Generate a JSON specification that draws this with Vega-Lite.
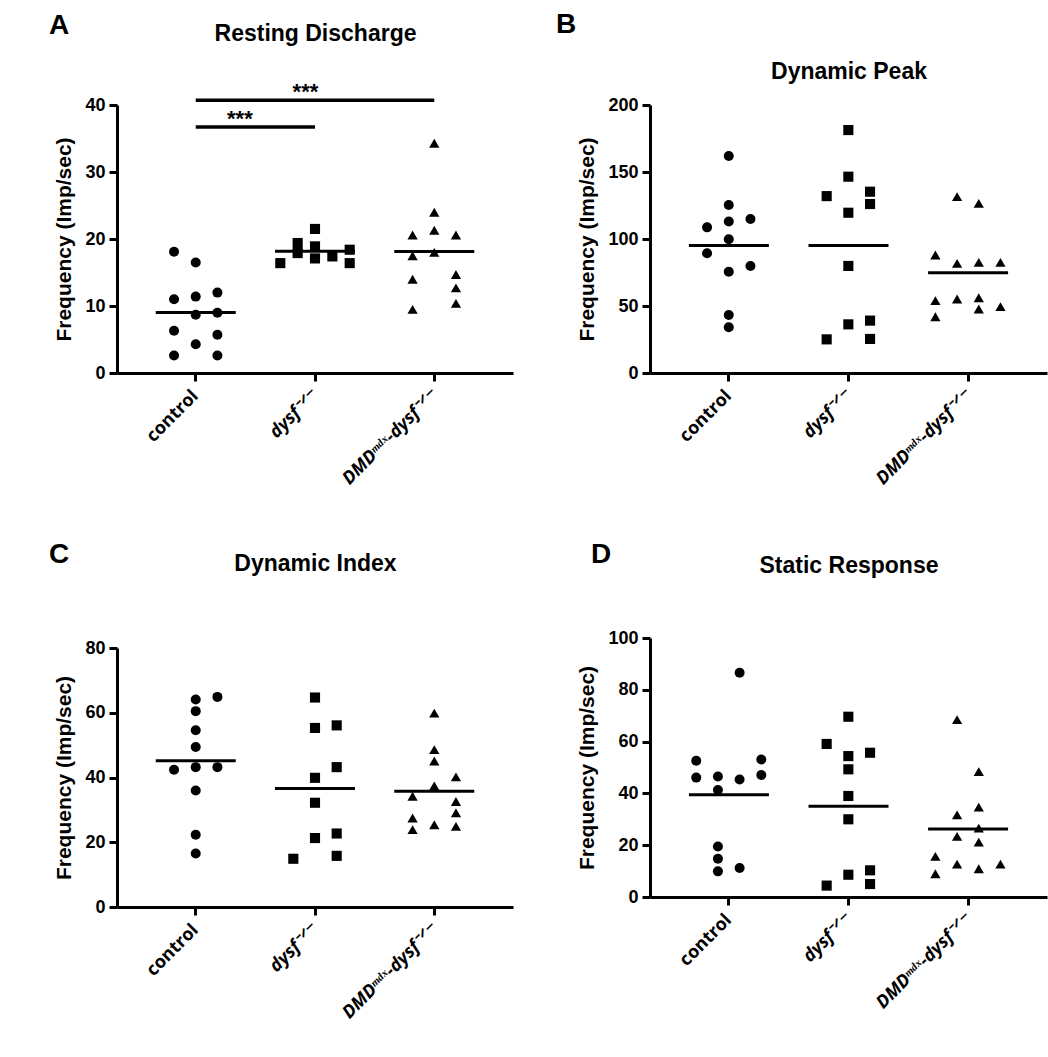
{
  "$schema": "https://vega.github.io/schema/vega-lite/v6.json",
  "background": "white",
  "padding": {"left": 48, "top": 11, "right": 5, "bottom": 5},
  "config": {
    "font": "Liberation Sans",
    "view": {"stroke": null},
    "axis": {"grid": false, "domainColor": "#000", "domainWidth": 3, "tickColor": "#000", "tickWidth": 3, "tickSize": 8, "labelColor": "#000", "labelFont": "Liberation Sans", "labelFontWeight": "bold", "labelFontSize": 18, "titleColor": "#000", "titleFont": "Liberation Sans", "titleFontWeight": "bold", "titleFontSize": 21},
    "title": {"font": "Liberation Sans", "fontWeight": "bold", "fontSize": 28, "color": "#000", "anchor": "start", "frame": "bounds"}
  },
  "datasets": {
    "resting": [
      {"group": "control", "value": 18.1, "slot": -1}, {"group": "control", "value": 11.0, "slot": -1}, {"group": "control", "value": 6.3, "slot": -1}, {"group": "control", "value": 2.6, "slot": -1},
      {"group": "control", "value": 16.5, "slot": 0}, {"group": "control", "value": 11.4, "slot": 0}, {"group": "control", "value": 8.7, "slot": 0}, {"group": "control", "value": 4.3, "slot": 0},
      {"group": "control", "value": 12.0, "slot": 1}, {"group": "control", "value": 9.0, "slot": 1}, {"group": "control", "value": 5.7, "slot": 1}, {"group": "control", "value": 2.6, "slot": 1},
      {"group": "dysf⁻ᐟ⁻", "value": 16.4, "slot": -1.6}, {"group": "dysf⁻ᐟ⁻", "value": 19.4, "slot": -0.8}, {"group": "dysf⁻ᐟ⁻", "value": 17.9, "slot": -0.8},
      {"group": "dysf⁻ᐟ⁻", "value": 21.5, "slot": 0}, {"group": "dysf⁻ᐟ⁻", "value": 18.9, "slot": 0}, {"group": "dysf⁻ᐟ⁻", "value": 17.1, "slot": 0},
      {"group": "dysf⁻ᐟ⁻", "value": 17.4, "slot": 0.8}, {"group": "dysf⁻ᐟ⁻", "value": 18.4, "slot": 1.6}, {"group": "dysf⁻ᐟ⁻", "value": 16.4, "slot": 1.6},
      {"group": "DMDᵐᵈˣ-dysf⁻ᐟ⁻", "value": 20.6, "slot": -1}, {"group": "DMDᵐᵈˣ-dysf⁻ᐟ⁻", "value": 17.5, "slot": -1}, {"group": "DMDᵐᵈˣ-dysf⁻ᐟ⁻", "value": 14.0, "slot": -1}, {"group": "DMDᵐᵈˣ-dysf⁻ᐟ⁻", "value": 9.5, "slot": -1},
      {"group": "DMDᵐᵈˣ-dysf⁻ᐟ⁻", "value": 34.3, "slot": 0}, {"group": "DMDᵐᵈˣ-dysf⁻ᐟ⁻", "value": 24.0, "slot": 0}, {"group": "DMDᵐᵈˣ-dysf⁻ᐟ⁻", "value": 21.3, "slot": 0}, {"group": "DMDᵐᵈˣ-dysf⁻ᐟ⁻", "value": 18.0, "slot": 0},
      {"group": "DMDᵐᵈˣ-dysf⁻ᐟ⁻", "value": 20.6, "slot": 1}, {"group": "DMDᵐᵈˣ-dysf⁻ᐟ⁻", "value": 14.7, "slot": 1}, {"group": "DMDᵐᵈˣ-dysf⁻ᐟ⁻", "value": 12.7, "slot": 1}, {"group": "DMDᵐᵈˣ-dysf⁻ᐟ⁻", "value": 10.4, "slot": 1}
    ],
    "peak": [
      {"group": "control", "value": 162, "slot": 0}, {"group": "control", "value": 125.4, "slot": 0}, {"group": "control", "value": 113, "slot": 0}, {"group": "control", "value": 99.8, "slot": 0}, {"group": "control", "value": 75.6, "slot": 0}, {"group": "control", "value": 43.3, "slot": 0}, {"group": "control", "value": 34.1, "slot": 0},
      {"group": "control", "value": 108.7, "slot": -1}, {"group": "control", "value": 89.3, "slot": -1},
      {"group": "control", "value": 114.9, "slot": 1}, {"group": "control", "value": 79.9, "slot": 1},
      {"group": "dysf⁻ᐟ⁻", "value": 181.3, "slot": 0}, {"group": "dysf⁻ᐟ⁻", "value": 146.5, "slot": 0}, {"group": "dysf⁻ᐟ⁻", "value": 119.6, "slot": 0}, {"group": "dysf⁻ᐟ⁻", "value": 79.9, "slot": 0}, {"group": "dysf⁻ᐟ⁻", "value": 36.3, "slot": 0},
      {"group": "dysf⁻ᐟ⁻", "value": 132, "slot": -1}, {"group": "dysf⁻ᐟ⁻", "value": 25.1, "slot": -1},
      {"group": "dysf⁻ᐟ⁻", "value": 135.3, "slot": 1}, {"group": "dysf⁻ᐟ⁻", "value": 126.1, "slot": 1}, {"group": "dysf⁻ᐟ⁻", "value": 39.1, "slot": 1}, {"group": "dysf⁻ᐟ⁻", "value": 25.4, "slot": 1},
      {"group": "DMDᵐᵈˣ-dysf⁻ᐟ⁻", "value": 88.1, "slot": -1.5}, {"group": "DMDᵐᵈˣ-dysf⁻ᐟ⁻", "value": 54, "slot": -1.5}, {"group": "DMDᵐᵈˣ-dysf⁻ᐟ⁻", "value": 42, "slot": -1.5},
      {"group": "DMDᵐᵈˣ-dysf⁻ᐟ⁻", "value": 131.6, "slot": -0.5}, {"group": "DMDᵐᵈˣ-dysf⁻ᐟ⁻", "value": 81.8, "slot": -0.5}, {"group": "DMDᵐᵈˣ-dysf⁻ᐟ⁻", "value": 55.2, "slot": -0.5},
      {"group": "DMDᵐᵈˣ-dysf⁻ᐟ⁻", "value": 126.6, "slot": 0.5}, {"group": "DMDᵐᵈˣ-dysf⁻ᐟ⁻", "value": 82.6, "slot": 0.5}, {"group": "DMDᵐᵈˣ-dysf⁻ᐟ⁻", "value": 56.2, "slot": 0.5}, {"group": "DMDᵐᵈˣ-dysf⁻ᐟ⁻", "value": 47.8, "slot": 0.5},
      {"group": "DMDᵐᵈˣ-dysf⁻ᐟ⁻", "value": 82.6, "slot": 1.5}, {"group": "DMDᵐᵈˣ-dysf⁻ᐟ⁻", "value": 49.5, "slot": 1.5}
    ],
    "index": [
      {"group": "control", "value": 64.1, "slot": 0}, {"group": "control", "value": 60.5, "slot": 0}, {"group": "control", "value": 54.6, "slot": 0}, {"group": "control", "value": 49.4, "slot": 0}, {"group": "control", "value": 43.2, "slot": 0}, {"group": "control", "value": 36.0, "slot": 0}, {"group": "control", "value": 22.3, "slot": 0}, {"group": "control", "value": 16.5, "slot": 0},
      {"group": "control", "value": 42.4, "slot": -1},
      {"group": "control", "value": 64.9, "slot": 1}, {"group": "control", "value": 43.2, "slot": 1},
      {"group": "dysf⁻ᐟ⁻", "value": 64.7, "slot": 0}, {"group": "dysf⁻ᐟ⁻", "value": 55.3, "slot": 0}, {"group": "dysf⁻ᐟ⁻", "value": 39.9, "slot": 0}, {"group": "dysf⁻ᐟ⁻", "value": 32.2, "slot": 0}, {"group": "dysf⁻ᐟ⁻", "value": 21.3, "slot": 0},
      {"group": "dysf⁻ᐟ⁻", "value": 56.1, "slot": 1}, {"group": "dysf⁻ᐟ⁻", "value": 43.2, "slot": 1}, {"group": "dysf⁻ᐟ⁻", "value": 22.7, "slot": 1}, {"group": "dysf⁻ᐟ⁻", "value": 15.8, "slot": 1},
      {"group": "dysf⁻ᐟ⁻", "value": 14.9, "slot": -1},
      {"group": "DMDᵐᵈˣ-dysf⁻ᐟ⁻", "value": 59.9, "slot": 0}, {"group": "DMDᵐᵈˣ-dysf⁻ᐟ⁻", "value": 48.6, "slot": 0}, {"group": "DMDᵐᵈˣ-dysf⁻ᐟ⁻", "value": 45.1, "slot": 0}, {"group": "DMDᵐᵈˣ-dysf⁻ᐟ⁻", "value": 37.4, "slot": 0}, {"group": "DMDᵐᵈˣ-dysf⁻ᐟ⁻", "value": 25.4, "slot": 0},
      {"group": "DMDᵐᵈˣ-dysf⁻ᐟ⁻", "value": 40.2, "slot": 1}, {"group": "DMDᵐᵈˣ-dysf⁻ᐟ⁻", "value": 32.6, "slot": 1}, {"group": "DMDᵐᵈˣ-dysf⁻ᐟ⁻", "value": 29.1, "slot": 1}, {"group": "DMDᵐᵈˣ-dysf⁻ᐟ⁻", "value": 24.9, "slot": 1},
      {"group": "DMDᵐᵈˣ-dysf⁻ᐟ⁻", "value": 34.2, "slot": -1}, {"group": "DMDᵐᵈˣ-dysf⁻ᐟ⁻", "value": 27.5, "slot": -1}, {"group": "DMDᵐᵈˣ-dysf⁻ᐟ⁻", "value": 23.9, "slot": -1}
    ],
    "static": [
      {"group": "control", "value": 52.6, "slot": -1.5}, {"group": "control", "value": 46.1, "slot": -1.5},
      {"group": "control", "value": 46.5, "slot": -0.5}, {"group": "control", "value": 41.3, "slot": -0.5}, {"group": "control", "value": 19.5, "slot": -0.5}, {"group": "control", "value": 14.8, "slot": -0.5}, {"group": "control", "value": 9.9, "slot": -0.5},
      {"group": "control", "value": 86.6, "slot": 0.5}, {"group": "control", "value": 45.4, "slot": 0.5}, {"group": "control", "value": 11.2, "slot": 0.5},
      {"group": "control", "value": 53.1, "slot": 1.5}, {"group": "control", "value": 47.1, "slot": 1.5},
      {"group": "dysf⁻ᐟ⁻", "value": 69.6, "slot": 0}, {"group": "dysf⁻ᐟ⁻", "value": 54.4, "slot": 0}, {"group": "dysf⁻ᐟ⁻", "value": 49.3, "slot": 0}, {"group": "dysf⁻ᐟ⁻", "value": 39.0, "slot": 0}, {"group": "dysf⁻ᐟ⁻", "value": 30.0, "slot": 0}, {"group": "dysf⁻ᐟ⁻", "value": 8.6, "slot": 0},
      {"group": "dysf⁻ᐟ⁻", "value": 59.1, "slot": -1}, {"group": "dysf⁻ᐟ⁻", "value": 4.4, "slot": -1},
      {"group": "dysf⁻ᐟ⁻", "value": 55.7, "slot": 1}, {"group": "dysf⁻ᐟ⁻", "value": 10.3, "slot": 1}, {"group": "dysf⁻ᐟ⁻", "value": 5.0, "slot": 1},
      {"group": "DMDᵐᵈˣ-dysf⁻ᐟ⁻", "value": 15.7, "slot": -1.5}, {"group": "DMDᵐᵈˣ-dysf⁻ᐟ⁻", "value": 9.0, "slot": -1.5},
      {"group": "DMDᵐᵈˣ-dysf⁻ᐟ⁻", "value": 68.5, "slot": -0.5}, {"group": "DMDᵐᵈˣ-dysf⁻ᐟ⁻", "value": 31.7, "slot": -0.5}, {"group": "DMDᵐᵈˣ-dysf⁻ᐟ⁻", "value": 23.4, "slot": -0.5}, {"group": "DMDᵐᵈˣ-dysf⁻ᐟ⁻", "value": 12.7, "slot": -0.5},
      {"group": "DMDᵐᵈˣ-dysf⁻ᐟ⁻", "value": 48.4, "slot": 0.5}, {"group": "DMDᵐᵈˣ-dysf⁻ᐟ⁻", "value": 34.7, "slot": 0.5}, {"group": "DMDᵐᵈˣ-dysf⁻ᐟ⁻", "value": 26.6, "slot": 0.5}, {"group": "DMDᵐᵈˣ-dysf⁻ᐟ⁻", "value": 21.2, "slot": 0.5}, {"group": "DMDᵐᵈˣ-dysf⁻ᐟ⁻", "value": 10.9, "slot": 0.5},
      {"group": "DMDᵐᵈˣ-dysf⁻ᐟ⁻", "value": 12.7, "slot": 1.5}
    ],
    "sig": [
      {"from": "control", "to": "dysf⁻ᐟ⁻", "y": 36.7, "label": "***"},
      {"from": "control", "to": "DMDᵐᵈˣ-dysf⁻ᐟ⁻", "y": 40.7, "label": "***"}
    ]
  },
  "hconcat": [
    {
      "bounds": "flush",
      "spacing": 275,
      "vconcat": [
        {
          "width": 396, "height": 268,
          "title": {"text": "A", "dx": -5, "dy": 22},
          "layer": [
            {
              "data": {"name": "resting"},
              "mark": {"type": "point", "filled": true, "opacity": 1, "color": "#000"},
              "encoding": {
                "x": {"field": "group", "type": "nominal", "scale": {"type": "band", "domain": ["control", "dysf⁻ᐟ⁻", "DMDᵐᵈˣ-dysf⁻ᐟ⁻"], "paddingInner": 0, "paddingOuter": 0.16},
                  "axis": {"title": null, "labelAngle": -45, "labelAlign": "right", "labelBaseline": "middle", "labelFont": "Open Sans", "labelFontSize": 18, "labelPadding": 12, "labelFontStyle": {"condition": {"test": "datum.value !== 'control'", "value": "italic"}, "value": "normal"}}},
                "xOffset": {"field": "slot", "type": "quantitative", "scale": {"domain": [-2.75, 2.75]}},
                "y": {"field": "value", "type": "quantitative", "title": "Frequency (Imp/sec)", "scale": {"domain": [0, 40], "nice": false}, "axis": {"values": [0, 10, 20, 30, 40], "labelPadding": 4, "titlePadding": 10}},
                "shape": {"field": "group", "type": "nominal", "scale": {"domain": ["control", "dysf⁻ᐟ⁻", "DMDᵐᵈˣ-dysf⁻ᐟ⁻"], "range": ["circle", "square", "triangle-up"]}, "legend": null},
                "size": {"field": "group", "type": "nominal", "scale": {"domain": ["control", "dysf⁻ᐟ⁻", "DMDᵐᵈˣ-dysf⁻ᐟ⁻"], "range": [100, 105, 140]}, "legend": null}
              }
            },
            {
              "data": {"name": "resting"},
              "mark": {"type": "tick", "color": "#000", "size": 80, "thickness": 3},
              "encoding": {
                "x": {"field": "group", "type": "nominal", "axis": {"orient": "top", "title": "Resting Discharge", "titleFontSize": 23, "titlePadding": 60, "labels": false, "ticks": false, "domain": false}},
                "y": {"aggregate": "mean", "field": "value", "type": "quantitative", "title": "Frequency (Imp/sec)"}
              }
            },
            {
              "data": {"name": "sig"},
              "mark": {"type": "rule", "color": "#000", "strokeWidth": 3.5},
              "encoding": {
                "x": {"field": "from", "type": "nominal", "bandPosition": 0.5, "axis": null},
                "x2": {"field": "to", "bandPosition": 0.5},
                "y": {"field": "y", "type": "quantitative", "title": "Frequency (Imp/sec)"}
              }
            },
            {
              "data": {"values": [{"at": "dysf⁻ᐟ⁻", "y": 40.7, "label": "***"}]},
              "mark": {"type": "text", "font": "Liberation Sans", "fontWeight": "bold", "fontSize": 22, "baseline": "alphabetic", "dy": -1},
              "encoding": {
                "x": {"field": "at", "type": "nominal", "bandPosition": 0.42, "axis": null},
                "y": {"field": "y", "type": "quantitative", "title": "Frequency (Imp/sec)"},
                "text": {"field": "label"}
              }
            },
            {
              "data": {"values": [{"at": "control", "y": 36.7, "label": "***"}]},
              "mark": {"type": "text", "font": "Liberation Sans", "fontWeight": "bold", "fontSize": 22, "baseline": "alphabetic", "dy": -1},
              "encoding": {
                "x": {"field": "at", "type": "nominal", "bandPosition": 0.87, "axis": null},
                "y": {"field": "y", "type": "quantitative", "title": "Frequency (Imp/sec)"},
                "text": {"field": "label"}
              }
            }
          ],
          "resolve": {"axis": {"x": "independent"}}
        },
        {
          "width": 396, "height": 259,
          "title": {"text": "C", "dx": -5, "dy": 21},
          "layer": [
            {
              "data": {"name": "index"},
              "mark": {"type": "point", "filled": true, "opacity": 1, "color": "#000"},
              "encoding": {
                "x": {"field": "group", "type": "nominal", "scale": {"type": "band", "domain": ["control", "dysf⁻ᐟ⁻", "DMDᵐᵈˣ-dysf⁻ᐟ⁻"], "paddingInner": 0, "paddingOuter": 0.16},
                  "axis": {"title": null, "labelAngle": -45, "labelAlign": "right", "labelBaseline": "middle", "labelFont": "Open Sans", "labelFontSize": 18, "labelPadding": 12, "labelFontStyle": {"condition": {"test": "datum.value !== 'control'", "value": "italic"}, "value": "normal"}}},
                "xOffset": {"field": "slot", "type": "quantitative", "scale": {"domain": [-2.75, 2.75]}},
                "y": {"field": "value", "type": "quantitative", "title": "Frequency (Imp/sec)", "scale": {"domain": [0, 80], "nice": false}, "axis": {"values": [0, 20, 40, 60, 80], "labelPadding": 4, "titlePadding": 10}},
                "shape": {"field": "group", "type": "nominal", "scale": {"domain": ["control", "dysf⁻ᐟ⁻", "DMDᵐᵈˣ-dysf⁻ᐟ⁻"], "range": ["circle", "square", "triangle-up"]}, "legend": null},
                "size": {"field": "group", "type": "nominal", "scale": {"domain": ["control", "dysf⁻ᐟ⁻", "DMDᵐᵈˣ-dysf⁻ᐟ⁻"], "range": [100, 105, 140]}, "legend": null}
              }
            },
            {
              "data": {"name": "index"},
              "mark": {"type": "tick", "color": "#000", "size": 80, "thickness": 3},
              "encoding": {
                "x": {"field": "group", "type": "nominal", "axis": {"orient": "top", "title": "Dynamic Index", "titleFontSize": 23, "titlePadding": 73, "labels": false, "ticks": false, "domain": false}},
                "y": {"aggregate": "mean", "field": "value", "type": "quantitative", "title": "Frequency (Imp/sec)"}
              }
            }
          ],
          "resolve": {"axis": {"x": "independent"}}
        }
      ]
    },
    {
      "bounds": "flush",
      "spacing": 265,
      "vconcat": [
        {
          "width": 397, "height": 268,
          "title": {"text": "B", "dx": -21, "dy": -17},
          "layer": [
            {
              "data": {"name": "peak"},
              "mark": {"type": "point", "filled": true, "opacity": 1, "color": "#000"},
              "encoding": {
                "x": {"field": "group", "type": "nominal", "scale": {"type": "band", "domain": ["control", "dysf⁻ᐟ⁻", "DMDᵐᵈˣ-dysf⁻ᐟ⁻"], "paddingInner": 0, "paddingOuter": 0.16},
                  "axis": {"title": null, "labelAngle": -45, "labelAlign": "right", "labelBaseline": "middle", "labelFont": "Open Sans", "labelFontSize": 18, "labelPadding": 12, "labelFontStyle": {"condition": {"test": "datum.value !== 'control'", "value": "italic"}, "value": "normal"}}},
                "xOffset": {"field": "slot", "type": "quantitative", "scale": {"domain": [-2.75, 2.75]}},
                "y": {"field": "value", "type": "quantitative", "title": "Frequency (Imp/sec)", "scale": {"domain": [0, 200], "nice": false}, "axis": {"values": [0, 50, 100, 150, 200], "labelPadding": 4, "titlePadding": 10}},
                "shape": {"field": "group", "type": "nominal", "scale": {"domain": ["control", "dysf⁻ᐟ⁻", "DMDᵐᵈˣ-dysf⁻ᐟ⁻"], "range": ["circle", "square", "triangle-up"]}, "legend": null},
                "size": {"field": "group", "type": "nominal", "scale": {"domain": ["control", "dysf⁻ᐟ⁻", "DMDᵐᵈˣ-dysf⁻ᐟ⁻"], "range": [100, 105, 140]}, "legend": null}
              }
            },
            {
              "data": {"name": "peak"},
              "mark": {"type": "tick", "color": "#000", "size": 80, "thickness": 3},
              "encoding": {
                "x": {"field": "group", "type": "nominal", "axis": {"orient": "top", "title": "Dynamic Peak", "titleFontSize": 23, "titlePadding": 22, "labels": false, "ticks": false, "domain": false}},
                "y": {"aggregate": "mean", "field": "value", "type": "quantitative", "title": "Frequency (Imp/sec)"}
              }
            }
          ],
          "resolve": {"axis": {"x": "independent"}}
        },
        {
          "width": 397, "height": 259,
          "title": {"text": "D", "dx": 14, "dy": 19},
          "layer": [
            {
              "data": {"name": "static"},
              "mark": {"type": "point", "filled": true, "opacity": 1, "color": "#000"},
              "encoding": {
                "x": {"field": "group", "type": "nominal", "scale": {"type": "band", "domain": ["control", "dysf⁻ᐟ⁻", "DMDᵐᵈˣ-dysf⁻ᐟ⁻"], "paddingInner": 0, "paddingOuter": 0.16},
                  "axis": {"title": null, "labelAngle": -45, "labelAlign": "right", "labelBaseline": "middle", "labelFont": "Open Sans", "labelFontSize": 18, "labelPadding": 12, "labelFontStyle": {"condition": {"test": "datum.value !== 'control'", "value": "italic"}, "value": "normal"}}},
                "xOffset": {"field": "slot", "type": "quantitative", "scale": {"domain": [-2.75, 2.75]}},
                "y": {"field": "value", "type": "quantitative", "title": "Frequency (Imp/sec)", "scale": {"domain": [0, 100], "nice": false}, "axis": {"values": [0, 20, 40, 60, 80, 100], "labelPadding": 4, "titlePadding": 10}},
                "shape": {"field": "group", "type": "nominal", "scale": {"domain": ["control", "dysf⁻ᐟ⁻", "DMDᵐᵈˣ-dysf⁻ᐟ⁻"], "range": ["circle", "square", "triangle-up"]}, "legend": null},
                "size": {"field": "group", "type": "nominal", "scale": {"domain": ["control", "dysf⁻ᐟ⁻", "DMDᵐᵈˣ-dysf⁻ᐟ⁻"], "range": [100, 105, 140]}, "legend": null}
              }
            },
            {
              "data": {"name": "static"},
              "mark": {"type": "tick", "color": "#000", "size": 80, "thickness": 3},
              "encoding": {
                "x": {"field": "group", "type": "nominal", "axis": {"orient": "top", "title": "Static Response", "titleFontSize": 23, "titlePadding": 61, "labels": false, "ticks": false, "domain": false}},
                "y": {"aggregate": "mean", "field": "value", "type": "quantitative", "title": "Frequency (Imp/sec)"}
              }
            }
          ],
          "resolve": {"axis": {"x": "independent"}}
        }
      ]
    }
  ],
  "spacing": 42
}
